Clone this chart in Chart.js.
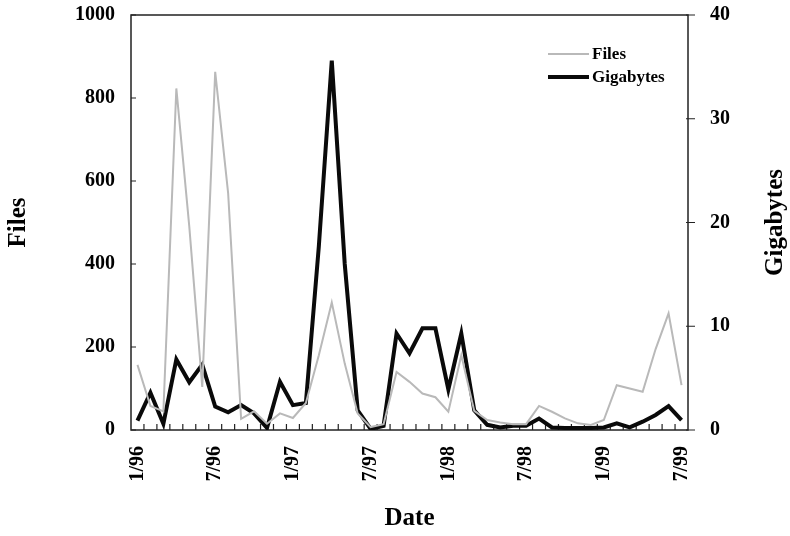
<!DOCTYPE html>
<html>
<head>
<meta charset="utf-8">
<script src="https://cdn.jsdelivr.net/npm/chart.js@4.4.1/dist/chart.umd.min.js"></script>
<style>
  html, body { margin: 0; padding: 0; background: #fff; }
  #wrap { width: 790px; height: 536px; }
</style>
</head>
<body>
<div id="wrap"><canvas id="myChart"></canvas></div>
<script>
// one point per month, Jan 1996 .. Jul 1999
const months = [
  '1/96', '2/96', '3/96', '4/96', '5/96', '6/96', '7/96', '8/96', '9/96', '10/96', '11/96', '12/96',
  '1/97', '2/97', '3/97', '4/97', '5/97', '6/97', '7/97', '8/97', '9/97', '10/97', '11/97', '12/97',
  '1/98', '2/98', '3/98', '4/98', '5/98', '6/98', '7/98', '8/98', '9/98', '10/98', '11/98', '12/98',
  '1/99', '2/99', '3/99', '4/99', '5/99', '6/99', '7/99'
];
const files = [
  157, 58, 45, 823, 490, 104, 863, 570, 27, 45, 15, 40,
  29, 65, 180, 307, 160, 40, 7, 14, 140, 116, 88, 79,
  44, 180, 46, 24, 18, 14, 14, 58, 44, 28, 16, 12,
  24, 108, 100, 92, 195, 281, 108
];
const gigabytes = [
  0.9, 3.6, 0.6, 6.8, 4.6, 6.3, 2.25, 1.7, 2.4, 1.6, 0.2, 4.65,
  2.4, 2.6, 17.7, 35.6, 16, 1.9, 0.1, 0.4, 9.3, 7.4, 9.8, 9.8,
  3.9, 9.3, 1.9, 0.5, 0.25, 0.4, 0.4, 1.1, 0.25, 0.2, 0.2, 0.2,
  0.25, 0.65, 0.25, 0.8, 1.45, 2.3, 0.95
];

const serif = '"Liberation Serif", "Times New Roman", serif';

// box round the plot plus the small tick marks (month ticks point up, left ticks point in)
const frameTicks = {
  id: 'frameTicks',
  beforeDatasetsDraw(chart) {
    const { ctx, chartArea: a, scales } = chart;
    ctx.save();
    ctx.strokeStyle = '#222';
    ctx.lineWidth = 1.5;
    ctx.strokeRect(a.left, a.top, a.right - a.left, a.bottom - a.top);
    ctx.lineWidth = 1.2;
    ctx.beginPath();
    const x = scales.x;
    for (let i = 1; i < x.ticks.length; i++) {
      const px = (x.getPixelForTick(i - 1) + x.getPixelForTick(i)) / 2;
      ctx.moveTo(px, a.bottom);
      ctx.lineTo(px, a.bottom - 6);
    }
    scales.y.ticks.forEach((t, i) => {
      const py = scales.y.getPixelForTick(i);
      ctx.moveTo(a.left, py);
      ctx.lineTo(a.left + 5, py);
    });
    scales.y2.ticks.forEach((t, i) => {
      const py = scales.y2.getPixelForTick(i);
      ctx.moveTo(a.right - 2, py);
      ctx.lineTo(a.right + 7, py);
    });
    ctx.stroke();

    // right axis title, read bottom to top like the left one
    ctx.save();
    ctx.translate(chart.width - 14, (a.top + a.bottom) / 2);
    ctx.rotate(-Math.PI / 2);
    ctx.font = 'bold 25px ' + serif;
    ctx.fillStyle = '#000';
    ctx.textAlign = 'center';
    ctx.textBaseline = 'middle';
    ctx.fillText('Gigabytes', 0, 0);
    ctx.restore();
    ctx.restore();
  }
};

// legend sits inside the plot, top right
const cornerLegend = {
  id: 'cornerLegend',
  afterDraw(chart) {
    const { ctx, chartArea: a } = chart;
    ctx.save();
    ctx.font = 'bold 17px ' + serif;
    ctx.textBaseline = 'middle';
    chart.data.datasets.forEach((ds, i) => {
      const y = a.top + 39 + i * 23;
      const x0 = a.right - 140;
      ctx.strokeStyle = ds.borderColor;
      ctx.lineWidth = ds.borderWidth;
      ctx.beginPath();
      ctx.moveTo(x0, y);
      ctx.lineTo(x0 + 41, y);
      ctx.stroke();
      ctx.fillStyle = '#000';
      ctx.fillText(ds.label, x0 + 44, y + 1);
    });
    ctx.restore();
  }
};

// no extra room above/below the plot for the end labels
const noPad = s => { s.paddingTop = 0; s.paddingBottom = 0; };

const ctx = document.getElementById('myChart').getContext('2d');
const chart = new Chart(ctx, {
  type: 'line',
  data: {
    labels: months,
    datasets: [{
        label: 'Files',
        data: files,
        yAxisID: 'y',
        borderColor: 'rgb(185, 185, 185)',
        borderWidth: 2,
        pointRadius: 0,
        tension: 0
      },
      {
        label: 'Gigabytes',
        data: gigabytes,
        yAxisID: 'y2',
        borderColor: '#0a0a0a',
        borderWidth: 4,
        pointRadius: 0,
        tension: 0
      }
    ]
  },
  options: {
    responsive: true,
    maintainAspectRatio: false,
    animation: false,
    layout: { padding: { top: 15, left: 0, right: 0, bottom: 0 } },
    plugins: {
      legend: { display: false },
      tooltip: { enabled: false }
    },
    scales: {
      x: {
        type: 'category',
        offset: true,
        grid: { display: false, drawTicks: false },
        border: { display: false },
        ticks: {
          autoSkip: false,
          maxRotation: 90,
          minRotation: 90,
          padding: 16,
          color: '#000',
          font: { family: serif, size: 20, weight: 'bold' },
          callback: function (v, i) { return i % 6 === 0 ? this.getLabelForValue(v) : ''; }
        },
        title: {
          display: true,
          text: 'Date',
          color: '#000',
          padding: { top: 0, bottom: 2 },
          font: { family: serif, size: 25, weight: 'bold' }
        },
        afterFit: s => { s.height = 106; s.paddingLeft = 0; s.paddingRight = 0; }
      },
      y: {
        position: 'left',
        min: 0,
        max: 1000,
        grid: { display: false, drawTicks: false },
        border: { display: false },
        ticks: {
          stepSize: 200,
          padding: 16,
          color: '#000',
          font: { family: serif, size: 20, weight: 'bold' },
          callback: v => String(v)
        },
        title: {
          display: true,
          text: 'Files',
          color: '#000',
          padding: { top: 4, bottom: 4 },
          font: { family: serif, size: 25, weight: 'bold' }
        },
        afterFit: s => { s.width = 131; noPad(s); }
      },
      y2: {
        position: 'right',
        min: 0,
        max: 40,
        grid: { display: false, drawTicks: false },
        border: { display: false },
        ticks: {
          stepSize: 10,
          padding: 22,
          color: '#000',
          font: { family: serif, size: 20, weight: 'bold' },
          callback: v => String(v)
        },
        afterFit: s => { s.width = 102; noPad(s); }
      }
    }
  },
  plugins: [frameTicks, cornerLegend]
});
</script>
</body>
</html>
